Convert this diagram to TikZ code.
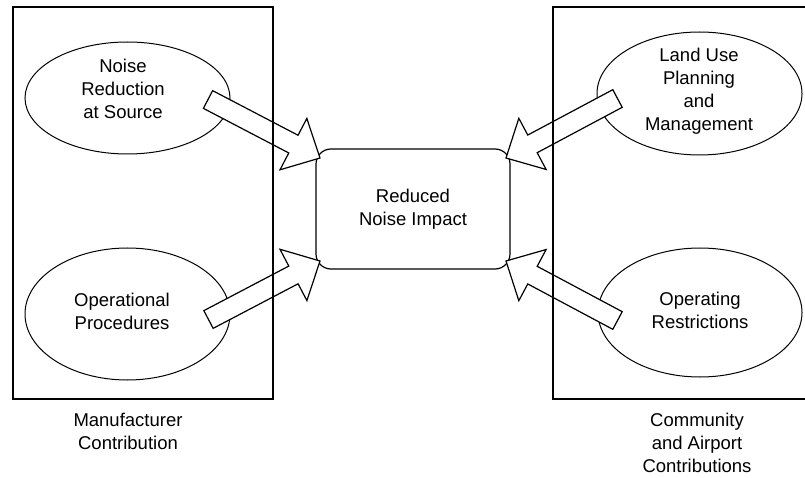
\documentclass[tikz,border=0pt]{standalone}
\usepackage{fontspec}
\setmainfont{Liberation Sans}
\usetikzlibrary{shapes.geometric,calc}
\tikzset{
  frame/.style={draw, line width=1.2pt, inner sep=0pt},
  oval/.style={draw, ellipse, line width=1pt, inner sep=0pt},
  lbl/.style={align=center, inner sep=0pt, font=\fontsize{18.5}{23}\selectfont},
  impact/.style={draw, rounded corners=15pt, line width=1.2pt, inner sep=0pt,
    align=center, font=\fontsize{18.5}{23}\selectfont},
  blk/.style={draw, line width=1.2pt, fill=white, line join=miter},
}
\newcommand{\blockarrow}[3]{%
  \coordinate (#3h) at ($(#2)!30pt!(#1)$);
  \draw[blk] ($(#1)!10pt!90:(#2)$) -- ($(#3h)!10pt!90:(#2)$) -- ($(#3h)!29pt!90:(#2)$)
    -- (#2) -- ($(#3h)!29pt!-90:(#2)$) -- ($(#3h)!10pt!-90:(#2)$)
    -- ($(#1)!10pt!-90:(#2)$) -- cycle;
}
\begin{document}
\begin{tikzpicture}[x=1pt,y=-1pt]
\useasboundingbox (0,0) rectangle (805,478);
% ellipses
\node[oval, minimum width=205pt, minimum height=112pt] (e1) at (127.5,98) {};
\node[oval, minimum width=205pt, minimum height=132pt] (e2) at (127.5,314) {};
\node[oval, minimum width=205pt, minimum height=123pt] (e3) at (699.5,93.5) {};
\node[oval, minimum width=204pt, minimum height=129pt] (e4) at (700,312.5) {};
\node[lbl] (t1) at (123,88.5) {Noise\\Reduction\\at Source};
\node[lbl] (t2) at (122,311.5) {Operational\\Procedures};
\node[lbl] (t3) at (699,91) {Land Use\\Planning\\and\\Management};
\node[lbl] (t4) at (700,310.5) {Operating\\Restrictions};
% center box
\node[impact, minimum width=194pt, minimum height=120pt] (imp) at (413,209) {Reduced\\Noise Impact};
% arrow end points
\coordinate (a1s) at (208,99.5);   \coordinate (a1e) at (320,158);
\coordinate (a2s) at (208.5,319.5); \coordinate (a2e) at (320,261);
\coordinate (a3s) at (617.5,98.5); \coordinate (a3e) at (506,158);
\coordinate (a4s) at (617.5,320.5); \coordinate (a4e) at (506,261);
\blockarrow{a1s}{a1e}{ba}
\blockarrow{a2s}{a2e}{bb}
\blockarrow{a3s}{a3e}{bc}
\blockarrow{a4s}{a4e}{bd}
% frames
\node[frame, minimum width=260pt, minimum height=392pt] (mfr) at (143,203) {};
\draw[line width=1.2pt] (807,7) -- (553,7) -- (553,399) -- (807,399);
% captions
\node[lbl] (c1) at (128,431.5) {Manufacturer\\Contribution};
\node[lbl] (c2) at (697,443) {Community\\and Airport\\Contributions};
\end{tikzpicture}
\end{document}
